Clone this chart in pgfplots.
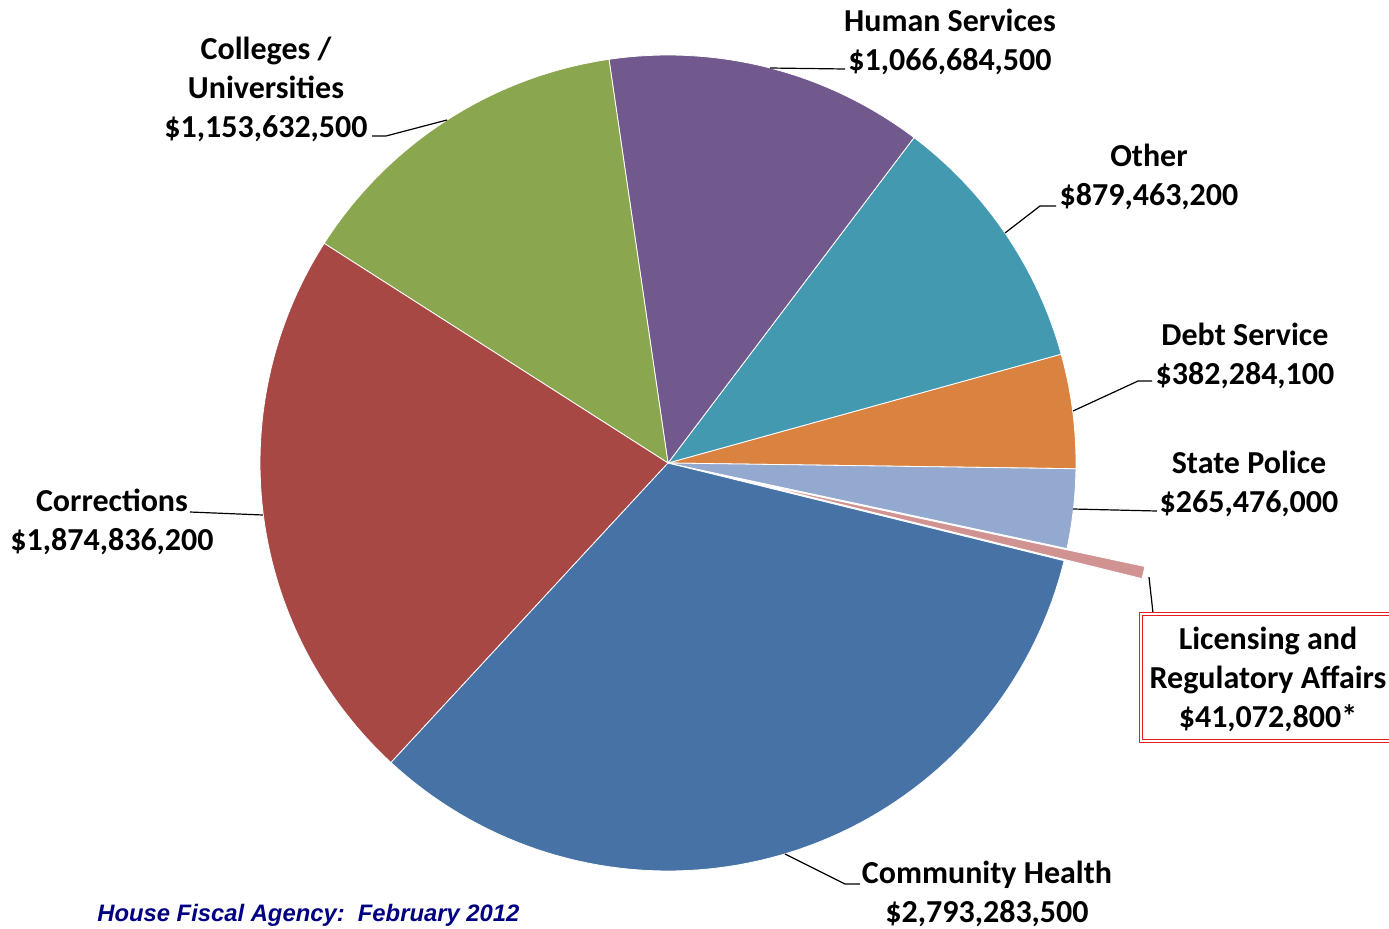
\documentclass[border=0pt]{standalone}
\usepackage{pgfplots}
\pgfplotsset{compat=1.18}
\usepackage{fontspec}
\setmainfont{Carlito}
\newfontfamily\arialf{Liberation Sans}
\definecolor{cComm}{RGB}{70,114,166}
\definecolor{cCorr}{RGB}{168,72,69}
\definecolor{cColl}{RGB}{138,166,79}
\definecolor{cHum}{RGB}{113,89,141}
\definecolor{cOth}{RGB}{66,153,176}
\definecolor{cDebt}{RGB}{218,131,64}
\definecolor{cPol}{RGB}{147,169,207}
\definecolor{cLic}{RGB}{208,147,146}
\definecolor{navy}{RGB}{0,0,128}
\definecolor{boxred}{RGB}{232,30,30}
% values in millions of dollars
\def\tot{8456.7328}
\def\cur{-0.8}
\newcommand{\pieslice}[3]{%
  \pgfmathsetmacro{\sa}{\cur}%
  \pgfmathsetmacro{\ea}{\cur+#1/\tot*360}%
  \pgfmathsetmacro{\ma}{(\sa+\ea)/2}%
  \pgfmathsetmacro{\cx}{668+#3*cos(\ma)}%
  \pgfmathsetmacro{\cy}{463-#3*sin(\ma)}%
  \edef\doit{\noexpand\addplot[fill=#2, draw=white, line width=0.4pt, domain=\sa:\ea, samples=80, variable=\noexpand\t] ({\cx+408*cos(\noexpand\t)},{\cy-408*sin(\noexpand\t)}) -- (\cx,\cy) -- cycle;}%
  \doit
  \xdef\cur{\ea}%
}
\begin{document}
\begin{tikzpicture}
\path[use as bounding box] (0,0) rectangle (694.5pt,464pt);
\clip (0,0) rectangle (694.5pt,464pt);
\begin{axis}[at={(0,0)}, anchor=south west, scale only axis, width=694.5pt, height=464pt,
  xmin=0, xmax=1389, ymin=0, ymax=928, y dir=reverse, hide axis, clip=false]
\pieslice{382.2841}{cDebt}{0}
\pieslice{879.4632}{cOth}{0}
\pieslice{1066.6845}{cHum}{0}
\pieslice{1153.6325}{cColl}{0}
\pieslice{1874.8362}{cCorr}{0}
\pieslice{2793.2835}{cComm}{0}
\pieslice{41.0728}{cLic}{80}
\pieslice{265.4760}{cPol}{0}
% leader lines
\draw[black, line width=0.6pt] (770,68) -- (845,69);
\draw[black, line width=0.6pt] (1005,233) -- (1040,206) -- (1056,206);
\draw[black, line width=0.6pt] (1073,411) -- (1138,381) -- (1152,381);
\draw[black, line width=0.6pt] (1073,509) -- (1157,511);
\draw[black, line width=0.6pt] (1149,577) -- (1153,613) -- (1166,613);
\draw[black, line width=0.6pt] (785,854) -- (845,884) -- (860,884);
\draw[black, line width=0.6pt] (190,512) -- (263,515);
\draw[black, line width=0.6pt] (372,136) -- (386,136) -- (447,120);
% labels
\tikzset{lab/.style={align=center, font=\fontsize{16pt}{19.5pt}\selectfont\bfseries, inner sep=0pt}}
\node[lab] at (950,41.5) {Human Services\\\$1,066,684,500};
\node[lab] at (1149,176.5) {Other\\\$879,463,200};
\node[lab] at (1245,355.5) {Debt Service\\\$382,284,100};
\node[lab] at (1249,483.5) {State Police\\\$265,476,000};
\draw[boxred, line width=0.6pt, double=white, double distance=1.2pt] (1141,614) rectangle (1410,741);
\node[lab] at (1268,679.5) {Licensing and\\Regulatory Affairs\\\$41,072,800*};
\node[lab] at (987,893.5) {Community Health\\\$2,793,283,500};
\node[lab] at (112,521.5) {Corrections\\\$1,874,836,200};
\node[lab] at (266,89.5) {Colleges /\\Universities\\\$1,153,632,500};
\node[anchor=base west, inner sep=0pt, text=navy, font=\arialf\bfseries\itshape\fontsize{11.9pt}{14pt}\selectfont] at (97,921) {House Fiscal Agency:~~February 2012};
\end{axis}
\end{tikzpicture}
\end{document}
